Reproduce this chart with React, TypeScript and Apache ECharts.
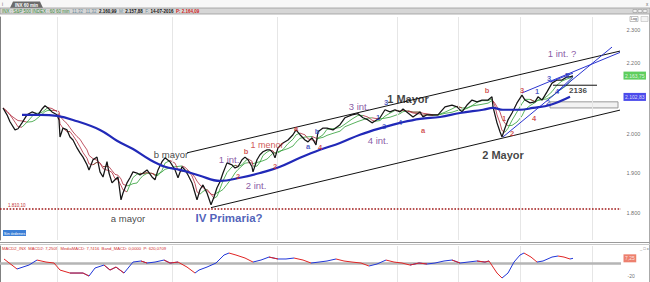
import React, { useEffect, useRef } from "react";
import * as echarts from "echarts";

// ---- price data (bar index, close) ----
const bars = [3,7,10,15,18,22,27,32,35,38,42,45,48,52,57,59,60,63,67,70,73,77,80,83,87,89,93,97,100,103,107,109,112,115,118,121,123,127,130,133,137,140,143,147,152,155,158,162,165,170,175,178,182,185,188,192,195,197,200,203,207,211,214,217,220,223,227,232,235,238,242,245,248,252,253,257,260,263,267,270,273,275,278,283,288,293,296,300,305,308,312,316,318,323,327,333,340,345,352,358,363,368,372,375,380,385,390,395,400,403,408,413,420,423,427,433,438,445,452,457,462,467,472,477,482,488,492,493,495,497,500,502,505,508,512,517,522,525,530,535,538,542,547,552,557,562,567,570,573];
const closes = [2072,2053,2034,2012,2015,2031,2053,2061,2058,2053,2069,2078,2072,2061,2053,2039,1993,2017,2012,1993,1985,1964,1951,1940,1920,1907,1933,1940,1902,1889,1928,1899,1874,1882,1889,1832,1849,1874,1887,1902,1899,1894,1899,1907,1889,1882,1907,1928,1938,1928,1907,1887,1915,1907,1894,1874,1849,1832,1857,1869,1849,1820,1839,1862,1877,1899,1925,1920,1912,1915,1933,1940,1933,1915,1902,1933,1946,1954,1959,1959,1951,1938,1964,1977,1985,1999,2012,1999,1985,1980,1991,1972,2007,2017,2017,2012,2026,2045,2053,2056,2045,2039,2031,2036,2045,2067,2061,2067,2061,2069,2058,2047,2061,2047,2053,2053,2053,2075,2080,2075,2061,2080,2094,2089,2094,2094,2103,2075,2053,2031,2007,1993,2017,2039,2058,2086,2108,2094,2086,2089,2103,2094,2117,2142,2151,2151,2160,2160,2163];

// ---- long moving average (blue) ----
const maBars = [22,40,57,73,100,117,133,150,165,180,200,220,240,260,280,300,320,340,360,385,400,420,440,460,483,493,503,520,533,550,570];
const maVals = [2053,2053,2050,2039,2012,1983,1961,1933,1915,1907,1892,1879,1887,1899,1915,1938,1959,1977,1999,2020,2031,2042,2047,2058,2067,2072,2067,2067,2072,2080,2103];

// ---- MACD ----
const macdBars = [4,17,29,37,46,54,60,70,83,89,95,104,110,116,124,133,141,147,155,164,170,178,187,195,199,207,216,224,229,236,245,253,261,269,278,286,294,303,311,319,327,336,344,352,361,369,377,386,394,402,410,419,427,435,444,452,460,468,477,485,489,493,497,502,508,514,520,524,531,537,543,552,558,564,570,573];
const macdVals = [6.2,-9.2,-3.1,4.6,1.5,0,-10.8,-15.4,-15.4,-20,-7.7,-3.1,-10.8,-6.2,-15.4,1.5,3.1,0,1.5,4.6,0,1.5,-6.2,-15.4,-10.8,-6.2,0,12.3,15.4,12.3,7.7,1.5,4.6,9.2,6.2,6.2,7.7,4.6,0,1.5,3.1,6.2,3.1,1.5,0,-4.6,-1.5,4.6,1.5,0,-3.1,0,-1.5,0,3.1,4.6,0,1.5,3.1,1.5,3.1,-6.2,-15.4,-23.1,-15.4,1.5,12.3,15.4,9.2,1.5,3.1,9.2,10.8,9.2,6.2,7.25];

// ---- axis ticks ----
const priceTicks = [1800, 1900, 2000, 2100, 2200, 2300];
const priceTickLabels = [1800, 1900, 2000, 2200, 2300]; // 2.100 is hidden under the MA value box
const minorStep = 20;
const macdTicks = [-20];
const gridXs = [57, 172, 277, 397, 458, 520, 592];
const lastPrice = 2163.75;
const lastMa = 2102.83;
const lastMacd = 7.2505;
const supportLevel = 1810.1;

// ---- trend lines ----
const upperChannel = [[187, 1951], [620, 2236]];
const lowerChannel = [[211, 1813], [620, 2066]];
const blueSteep = [[503, 1993], [612, 2248]];
const blueUpper = [[522, 2114], [620, 2232]];
const wedgeTop = [[550, 2145], [573, 2171]];
const wedgeBottom = [[557, 2117], [573, 2160]];
const level2136 = [[553, 2136], [597, 2136]];
const zoneBox = [[550, 2089], [618, 2072]];

// ---- annotations [bar, price, text] ----
const bigBlack = [[408, 2097, "1 Mayor"], [503, 1946, "2 Mayor"]];
const smallBlack = [[171, 1947, "b mayor"], [128, 1788, "a mayor"]];
const levelText = [[578, 2120, "2136"]];
const blueBig = [[229, 1788, "IV Primaria?"]];
const purpleText = [[229, 1935, "1 int."], [256, 1867, "2 int."], [359, 2075, "3 int."], [378, 1983, "4 int."], [562, 2230, "1 int. ?"]];
const redText = [[267, 1972, "1 menor"]];
const redWaves = [[246, 1954, "b"], [238, 1889, "2"], [275, 1915, "2"], [296, 2017, "a"], [320, 1964, "4"], [423, 2009, "a"], [487, 2122, "b"], [522, 2120, "3"], [504, 2042, "1"], [512, 2001, "2"], [534, 2044, "4"]];
const blueWaves = [[308, 1967, "a"], [317, 2007, "b"], [386, 2086, "3"], [378, 2047, "1"], [384, 2020, "2"], [400, 2031, "4"], [537, 2117, "1"], [549, 2154, "3"], [557, 2117, "4"], [548, 2086, "2"], [567, 2163, "5"]];

const FONT = "Liberation Sans";

function sma(vals: number[], n: number) {
  return vals.map((_, i) => {
    const s = Math.max(0, i - n + 1);
    let sum = 0;
    for (let k = s; k <= i; k++) sum += vals[k];
    return sum / (i - s + 1);
  });
}
function splitTrend(xs: number[], vals: number[]) {
  const up: any[] = xs.map((x) => [x, "-"]);
  const down: any[] = xs.map((x) => [x, "-"]);
  for (let i = 1; i < vals.length; i++) {
    const t = vals[i] >= vals[i - 1] ? up : down;
    t[i - 1] = [xs[i - 1], vals[i - 1]];
    t[i] = [xs[i], vals[i]];
  }
  return { up, down };
}
const fmtEs = (v: number, d = 0) =>
  v.toLocaleString("de-DE", { minimumFractionDigits: d, maximumFractionDigits: d });

export default function App() {
  const ref = useRef<HTMLDivElement>(null);
  useEffect(() => {
    if (!ref.current) return;
    const chart = echarts.init(ref.current, null, { renderer: "svg" });
    const fast = splitTrend(bars, sma(closes, 3));
    const slow = splitTrend(bars, sma(closes, 6));
    const macd = splitTrend(macdBars, macdVals);
    const GREEN = "#2e9e35";
    const DRED = "#b02a3c";
    const X_END = 621;
    const thin = (data: any[], color: string, w = 0.8) => ({
      type: "line", xAxisIndex: 0, yAxisIndex: 0, data, symbol: "none", silent: true,
      lineStyle: { color, width: w }, connectNulls: false, z: 3,
    });
    const seg = (data: any[], color: string, w = 1, z = 5) => ({
      type: "line", xAxisIndex: 0, yAxisIndex: 0, data, symbol: "none", silent: true,
      lineStyle: { color, width: w }, z,
    });
    const txt = (data: any[], color: string, size: number, weight: string) => ({
      type: "scatter", xAxisIndex: 0, yAxisIndex: 0, data, symbolSize: 1, silent: true, z: 20,
      itemStyle: { color: "rgba(0,0,0,0)" },
      label: { show: true, position: "inside", formatter: (p: any) => p.value[2], color, fontSize: size, fontWeight: weight, fontFamily: FONT },
    });
    const sideLabels = (xi: number, values: number[], fmt: (v: number) => string, style: any, z = 30) => ({
      type: "scatter", xAxisIndex: xi, yAxisIndex: xi, clip: false, silent: true, z,
      symbolSize: 1, itemStyle: { color: "rgba(0,0,0,0)" },
      data: values.map((v) => [X_END, v]),
      label: { show: true, position: "right", formatter: (p: any) => fmt(p.value[1]), fontFamily: FONT, ...style },
    });
    const minorTicks: number[] = [];
    for (let v = priceTicks[0] - 3 * minorStep; v <= priceTicks[priceTicks.length - 1] + 2 * minorStep; v += minorStep) minorTicks.push(v);
    const tickMarks = (values: number[], len: number) => ({
      type: "line", xAxisIndex: 0, yAxisIndex: 0, data: [], silent: true, clip: false, z: 9,
      markLine: {
        symbol: "none", silent: true, label: { show: false },
        lineStyle: { color: "#808080", width: 0.8, type: "solid" },
        data: values.map((v) => [{ coord: [X_END, v] }, { coord: [X_END + len, v] }]),
      },
    });
    const gridLines = {
      symbol: "none", silent: true, label: { show: false },
      lineStyle: { color: "#e6e6e6", width: 1, type: "solid" },
      data: gridXs.map((x) => ({ xAxis: x })),
    };
    const option: any = {
      animation: false,
      backgroundColor: "#ffffff",
      grid: [
        { left: 0, top: 17, width: 621, height: 223 },
        { left: 0, top: 246, width: 621, height: 36 },
      ],
      xAxis: [
        { type: "value", gridIndex: 0, min: 0, max: 621, show: false },
        { type: "value", gridIndex: 1, min: 0, max: 621, show: false },
      ],
      yAxis: [
        {
          type: "log", gridIndex: 0, min: 1736.1, max: 2340.4, position: "right",
          axisLine: { show: true, lineStyle: { color: "#808080", width: 1 } },
          axisLabel: { show: false }, axisTick: { show: false }, splitLine: { show: false },
        },
        {
          type: "value", gridIndex: 1, min: -29.2, max: 26.2, position: "right",
          axisLine: { show: true, lineStyle: { color: "#808080", width: 1 } },
          axisLabel: { show: false }, axisTick: { show: false }, splitLine: { show: false },
        },
      ],
      series: [
        { type: "line", xAxisIndex: 0, yAxisIndex: 0, data: [], silent: true, markLine: gridLines },
        tickMarks(minorTicks, 2),
        tickMarks(priceTicks, 3.5),
        sideLabels(0, priceTickLabels, (v) => fmtEs(v), { color: "#444", fontSize: 5.5, distance: 5 }),
        {
          type: "line", xAxisIndex: 0, yAxisIndex: 0, data: [], silent: true, z: 4,
          markLine: {
            symbol: "none", silent: true,
            lineStyle: { color: "#a01818", width: 1.6, type: [1.6, 1.6] },
            label: { show: true, position: "insideStartTop", distance: [8, 1], color: "#c03030", fontSize: 4.5, fontFamily: FONT, formatter: () => fmtEs(supportLevel, 2) },
            data: [{ yAxis: supportLevel }],
          },
        },
        {
          type: "line", xAxisIndex: 0, yAxisIndex: 0, data: [], silent: true, z: 2,
          markArea: {
            silent: true,
            itemStyle: { color: "#f2f2f2", borderColor: "#9a9a9a", borderWidth: 1 },
            data: [[{ coord: zoneBox[0] }, { coord: zoneBox[1] }]],
          },
        },
        thin(slow.up, GREEN, 0.8),
        thin(slow.down, DRED, 0.8),
        thin(fast.up, GREEN, 0.8),
        thin(fast.down, DRED, 0.8),
        {
          type: "line", xAxisIndex: 0, yAxisIndex: 0, data: bars.map((b, i) => [b, closes[i]]),
          symbol: "none", silent: true, z: 6, lineStyle: { color: "#151515", width: 1.25 },
        },
        {
          type: "line", xAxisIndex: 0, yAxisIndex: 0, data: maBars.map((b, i) => [b, maVals[i]]),
          symbol: "none", silent: true, smooth: 0.4, z: 7, lineStyle: { color: "#2129b8", width: 2.2 },
        },
        sideLabels(0, [lastPrice], (v) => fmtEs(v, 2), { color: "#fff", backgroundColor: "#36c236", padding: [1.5, 1.5], fontSize: 5, distance: 2 }, 40),
        sideLabels(0, [lastMa], (v) => fmtEs(v, 2), { color: "#fff", backgroundColor: "#1e1ee6", padding: [1.5, 1.5], fontSize: 5, distance: 2 }, 40),
        seg(upperChannel, "#111", 1, 8),
        seg(lowerChannel, "#111", 1, 8),
        seg(level2136, "#111", 1, 8),
        seg(blueSteep, "#2b35d0", 1, 8),
        seg(blueUpper, "#2b35d0", 1, 8),
        seg(wedgeTop, "#2b35d0", 1, 8),
        seg(wedgeBottom, "#2b35d0", 1, 8),
        txt(bigBlack, "#111", 11, "bold"),
        txt(smallBlack, "#111", 9.5, "normal"),
        txt(levelText, "#111", 8, "bold"),
        txt(blueBig, "#1f3aa8", 11.5, "bold"),
        txt(purpleText, "#6a2d8c", 9.5, "normal"),
        txt(redText, "#c42a2a", 9, "normal"),
        txt(redWaves, "#c62828", 7.5, "bold"),
        txt(blueWaves, "#2233b8", 7.5, "bold"),
        // MACD panel
        { type: "line", xAxisIndex: 1, yAxisIndex: 1, data: [], silent: true, markLine: gridLines },
        {
          type: "line", xAxisIndex: 1, yAxisIndex: 1, data: [], silent: true, z: 2,
          markLine: {
            symbol: "none", silent: true, lineStyle: { color: "#b5b5b5", width: 2.5, type: "solid" },
            label: { show: false }, data: [{ yAxis: 0 }],
          },
        },
        {
          type: "line", xAxisIndex: 1, yAxisIndex: 1, data: [], silent: true, clip: false, z: 9,
          markLine: {
            symbol: "none", silent: true, label: { show: false },
            lineStyle: { color: "#808080", width: 0.8, type: "solid" },
            data: macdTicks.map((v) => [{ coord: [X_END, v] }, { coord: [X_END + 3, v] }]),
          },
        },
        sideLabels(1, macdTicks, (v) => fmtEs(v), { color: "#444", fontSize: 5, distance: 6 }),
        {
          type: "line", xAxisIndex: 1, yAxisIndex: 1, data: macd.up, symbol: "none", silent: true, z: 5,
          lineStyle: { color: "#2036d8", width: 1 },
        },
        {
          type: "line", xAxisIndex: 1, yAxisIndex: 1, data: macd.down, symbol: "none", silent: true, z: 5,
          lineStyle: { color: "#e02424", width: 1 },
        },
        sideLabels(1, [lastMacd], (v) => fmtEs(v, 2), { color: "#fff", backgroundColor: "#e8604a", padding: [1.5, 1.5], fontSize: 5, distance: 2 }, 40),
      ],
      graphic: [
        { type: "rect", shape: { x: 0, y: 0, width: 650, height: 8 }, style: { fill: "#f7f7f7" }, silent: true },
        { type: "polygon", shape: { points: [[10, 8], [13, 1.5], [40, 1.5], [43, 8]] }, style: { fill: "#6a6a6a" }, silent: true },
        { type: "text", x: 26.5, y: 5, style: { text: "INX 60 min", fill: "#fff", fontSize: 4.5, fontWeight: "bold", fontFamily: FONT, align: "center", verticalAlign: "middle" }, silent: true },
        { type: "text", x: 2, y: 4, style: { text: "i", fill: "#666", fontSize: 4.5, fontFamily: FONT, verticalAlign: "middle" }, silent: true },
        { type: "text", x: 646, y: 4, style: { text: "x", fill: "#666", fontSize: 4.5, fontFamily: FONT, verticalAlign: "middle" }, silent: true },
        { type: "rect", shape: { x: 0, y: 8, width: 650, height: 6 }, style: { fill: "#d6d6d6", stroke: "#9a9a9a", lineWidth: 0.8 }, silent: true },
        {
          type: "text", x: 2, y: 11.2, silent: true,
          style: {
            text: "{g|INX : S&P 500 INDEX : 60 60 min}  {s|11,32  11,32}  {k|2.160,99}  {s|M:} {k|2.157,88}  {s|F:} {k|14-07-2016}  {r|P: 2.164,09}",
            fontSize: 4.5, fontFamily: FONT, verticalAlign: "middle",
            rich: {
              g: { fill: "#3a8a3a", fontSize: 4.5, fontFamily: FONT },
              s: { fill: "#6a8a9a", fontSize: 4.5, fontFamily: FONT },
              k: { fill: "#111", fontSize: 4.5, fontWeight: "bold", fontFamily: FONT },
              r: { fill: "#d02020", fontSize: 4.5, fontWeight: "bold", fontFamily: FONT },
            },
          },
        },
        { type: "rect", shape: { x: 633, y: 9.5, width: 4, height: 3 }, style: { fill: "#eee", stroke: "#888", lineWidth: 0.5 }, silent: true },
        { type: "rect", shape: { x: 638, y: 9.5, width: 4, height: 3 }, style: { fill: "#eee", stroke: "#888", lineWidth: 0.5 }, silent: true },
        { type: "rect", shape: { x: 643, y: 9.5, width: 4, height: 3 }, style: { fill: "#eee", stroke: "#888", lineWidth: 0.5 }, silent: true },
        { type: "rect", shape: { x: 630, y: 16.5, width: 8, height: 5 }, style: { fill: "#fff", stroke: "#999", lineWidth: 0.6 }, silent: true },
        { type: "text", x: 634, y: 19, style: { text: "Log", fill: "#333", fontSize: 3.5, fontFamily: FONT, align: "center", verticalAlign: "middle" }, silent: true },
        { type: "rect", shape: { x: 641, y: 16.5, width: 7, height: 5 }, style: { fill: "#f4f4f4", stroke: "#bbb", lineWidth: 0.6 }, silent: true },
        { type: "line", shape: { x1: 649.5, y1: 14, x2: 649.5, y2: 282 }, style: { stroke: "#aaa", lineWidth: 1 }, silent: true },
        { type: "rect", shape: { x: 3, y: 230, width: 23, height: 6 }, style: { fill: "#3c7fd6" }, silent: true },
        { type: "text", x: 14.5, y: 233, style: { text: "Sin órdenes", fill: "#fff", fontSize: 4, fontFamily: FONT, align: "center", verticalAlign: "middle" }, silent: true },
        { type: "line", shape: { x1: 0, y1: 242.5, x2: 650, y2: 242.5 }, style: { stroke: "#9a9a9a", lineWidth: 1 }, silent: true },
        { type: "line", shape: { x1: 0, y1: 244.5, x2: 650, y2: 244.5 }, style: { stroke: "#c8c8c8", lineWidth: 1 }, silent: true },
        { type: "text", x: 2, y: 248.5, style: { text: "MACD2_INX  MACD2: 7,2505  MediaMACD: 7,7416  Band_MACD: 0,0000  P: 620,0709", fill: "#d03030", fontSize: 4.2, fontFamily: FONT, verticalAlign: "middle" }, silent: true },
        { type: "text", x: 640, y: 248, style: { text: "_ □ x", fill: "#666", fontSize: 4, fontFamily: FONT, verticalAlign: "middle" }, silent: true },
      ],
    };
    chart.setOption(option);
    return () => chart.dispose();
  }, []);
  return (
    <div
      ref={ref}
      style={{ position: "absolute", left: 0, top: 0, width: 650, height: 282, background: "#fff" }}
    />
  );
}
